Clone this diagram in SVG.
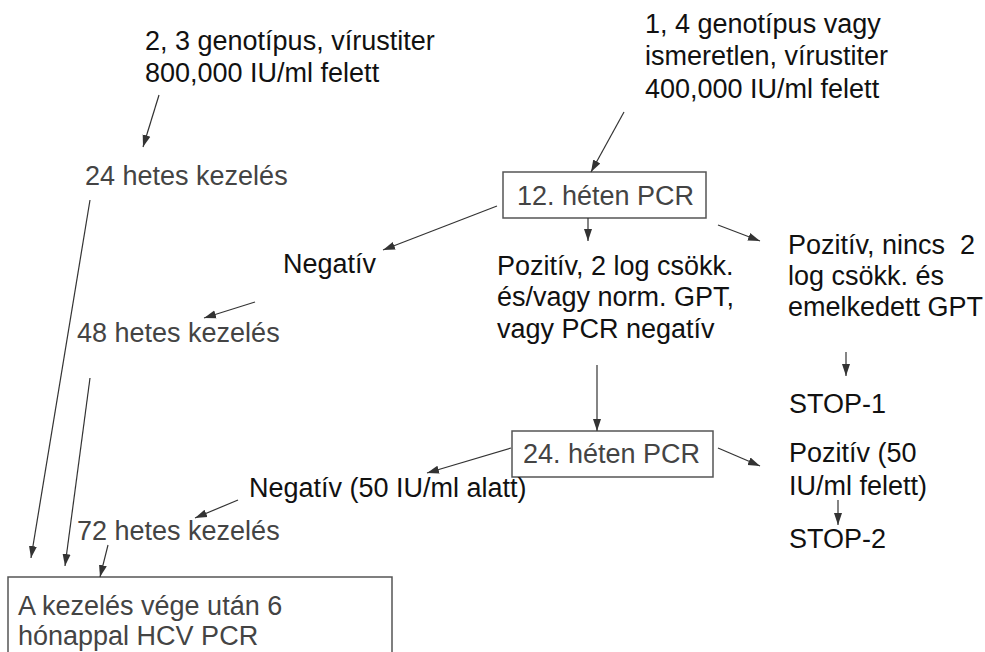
<svg xmlns="http://www.w3.org/2000/svg" width="985" height="652" viewBox="0 0 985 652">
  <style>
    text { font-family: "Liberation Sans", Arial, sans-serif; font-size: 27px; white-space: pre; }
    .dark { fill: #111; }
    .grey { fill: #444; }
    .box { fill: none; stroke: #555; stroke-width: 1.5; }
    .edge { fill: none; stroke: #333; stroke-width: 1.2; marker-end: url(#arrow); }
  </style>
  <defs>
    <marker id="arrow" markerUnits="userSpaceOnUse" markerWidth="12" markerHeight="10" viewBox="0 0 12 10" refX="12" refY="5" orient="auto">
      <path d="M0,1 L12,5 L0,9 Z" fill="#333"/>
    </marker>
  </defs>

  <rect width="985" height="652" fill="#fff"/>

  <g id="start-23">
    <text class="dark" x="145" y="50">2, 3 genotípus, vírustiter</text>
    <text class="dark" x="145" y="82">800,000 IU/ml felett</text>
  </g>

  <g id="start-14">
    <text class="dark" x="645" y="33">1, 4 genotípus vagy</text>
    <text class="dark" x="645" y="65">ismeretlen, vírustiter</text>
    <text class="dark" x="645" y="98">400,000 IU/ml felett</text>
  </g>

  <g id="treat-24">
    <text class="grey" x="85" y="185">24 hetes kezelés</text>
  </g>

  <g id="pcr-12">
    <rect class="box" x="503" y="172" width="203" height="46"/>
    <text class="grey" x="517" y="205">12. héten PCR</text>
  </g>

  <g id="neg-12">
    <text class="dark" x="283" y="273">Negatív</text>
  </g>

  <g id="pos-drop">
    <text class="dark" x="497" y="275">Pozitív, 2 log csökk.</text>
    <text class="dark" x="497" y="306">és/vagy norm. GPT,</text>
    <text class="dark" x="497" y="338">vagy PCR negatív</text>
  </g>

  <g id="pos-nodrop">
    <text class="dark" x="788" y="254">Pozitív, nincs  2</text>
    <text class="dark" x="788" y="285">log csökk. és</text>
    <text class="dark" x="788" y="316">emelkedett GPT</text>
  </g>

  <g id="treat-48">
    <text class="grey" x="77" y="342">48 hetes kezelés</text>
  </g>

  <g id="stop-1">
    <text class="dark" x="789" y="413">STOP-1</text>
  </g>

  <g id="pcr-24">
    <rect class="box" x="512" y="431" width="201" height="46"/>
    <text class="grey" x="523" y="463">24. héten PCR</text>
  </g>

  <g id="neg-24">
    <text class="dark" x="249" y="497">Negatív (50 IU/ml alatt)</text>
  </g>

  <g id="pos-24">
    <text class="dark" x="789" y="462">Pozitív (50</text>
    <text class="dark" x="789" y="495">IU/ml felett)</text>
  </g>

  <g id="stop-2">
    <text class="dark" x="789" y="548">STOP-2</text>
  </g>

  <g id="treat-72">
    <text class="grey" x="77" y="540">72 hetes kezelés</text>
  </g>

  <g id="follow-up">
    <rect class="box" x="8" y="577" width="384" height="100"/>
    <text class="grey" x="18" y="615">A kezelés vége után 6</text>
    <text class="grey" x="18" y="645">hónappal HCV PCR</text>
  </g>

  <g id="connectors">
    <line class="edge" x1="159" y1="95" x2="143" y2="147"/>
    <line class="edge" x1="624" y1="112" x2="591" y2="172"/>
    <line class="edge" x1="497" y1="206" x2="383" y2="250"/>
    <line class="edge" x1="588" y1="218" x2="588" y2="241"/>
    <line class="edge" x1="718" y1="225" x2="760" y2="241"/>
    <line class="edge" x1="255" y1="302" x2="204" y2="318"/>
    <line class="edge" x1="846" y1="352" x2="846" y2="376"/>
    <line class="edge" x1="597" y1="365" x2="597" y2="431"/>
    <line class="edge" x1="511" y1="448" x2="427" y2="473"/>
    <line class="edge" x1="718" y1="448" x2="760" y2="466"/>
    <line class="edge" x1="838" y1="500" x2="838" y2="525"/>
    <line class="edge" x1="238" y1="500" x2="195" y2="518"/>
    <line class="edge" x1="90" y1="200" x2="31" y2="558"/>
    <line class="edge" x1="90" y1="378" x2="65" y2="566"/>
    <line class="edge" x1="108" y1="545" x2="100" y2="577"/>
  </g>
</svg>
